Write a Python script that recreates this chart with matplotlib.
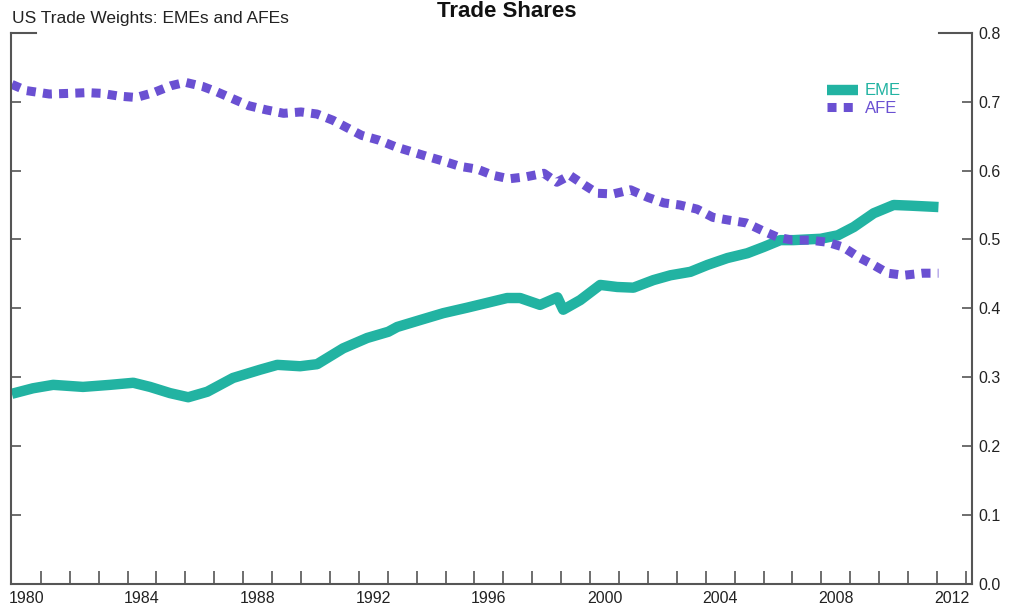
import numpy as np
import matplotlib
matplotlib.use("Agg")
import matplotlib.pyplot as plt

plt.rcParams["font.family"] = ["Liberation Sans", "DejaVu Sans"]

# EME trade share (year, value)
eme_years = [1980.0, 1980.73, 1981.43, 1982.46, 1983.40, 1984.20, 1984.78, 1985.47,
             1986.10, 1986.76, 1987.65, 1988.59, 1989.18, 1989.97, 1990.56, 1991.46,
             1992.29, 1993.02, 1993.33, 1994.12, 1994.92, 1995.75, 1996.54, 1997.13,
             1997.58, 1998.27, 1998.87, 1999.07, 1999.66, 2000.35, 2000.94, 2001.50,
             2002.19, 2002.78, 2003.47, 2004.06, 2004.75, 2005.44, 2006.00, 2006.58,
             2007.04, 2007.98, 2008.57, 2009.12, 2009.81, 2010.50, 2011.09, 2012.05]
eme_share = [0.276, 0.284, 0.289, 0.286, 0.289, 0.292, 0.286, 0.277,
             0.271, 0.279, 0.299, 0.311, 0.318, 0.316, 0.319, 0.342,
             0.357, 0.366, 0.373, 0.383, 0.393, 0.401, 0.409, 0.415,
             0.415, 0.405, 0.416, 0.398, 0.412, 0.434, 0.431, 0.430,
             0.441, 0.448, 0.453, 0.463, 0.473, 0.480, 0.489, 0.499,
             0.499, 0.501, 0.506, 0.518, 0.538, 0.550, 0.549, 0.547]

# AFE trade share
afe_years = [1980.0, 1980.5, 1981.3, 1982.0, 1982.6, 1983.1, 1983.7, 1984.3, 1984.9,
             1985.5, 1986.0, 1986.6, 1987.1, 1987.65, 1988.2, 1988.8, 1989.4, 1990.0,
             1990.55, 1991.1, 1991.6, 1992.1, 1992.7, 1993.3, 1993.85, 1994.4, 1994.9,
             1995.5, 1996.1, 1996.65, 1997.2, 1997.8, 1998.4, 1998.85, 1999.3, 1999.8,
             2000.25, 2000.8, 2001.4, 2002.0, 2002.55, 2003.1, 2003.7, 2004.25, 2004.8,
             2005.4, 2006.0, 2006.5, 2007.0, 2007.6, 2008.2, 2008.75, 2009.3, 2009.8,
             2010.3, 2010.85, 2011.5, 2012.05]
afe_share = [0.725, 0.716, 0.711, 0.712, 0.713, 0.712, 0.708, 0.706, 0.713,
             0.723, 0.728, 0.722, 0.714, 0.704, 0.694, 0.688, 0.683, 0.685,
             0.682, 0.673, 0.662, 0.651, 0.644, 0.634, 0.627, 0.620, 0.614,
             0.606, 0.602, 0.593, 0.588, 0.591, 0.596, 0.583, 0.593, 0.579,
             0.567, 0.566, 0.572, 0.561, 0.553, 0.550, 0.544, 0.532, 0.528,
             0.524, 0.512, 0.503, 0.499, 0.499, 0.496, 0.489, 0.474, 0.463,
             0.451, 0.448, 0.451, 0.451]

label_years = [1980, 1984, 1988, 1992, 1996, 2000, 2004, 2008, 2012]
y_ticks = [0.0, 0.1, 0.2, 0.3, 0.4, 0.5, 0.6, 0.7, 0.8]

eme_color = "#22B3A2"
afe_color = "#6A50D2"
axis_color = "#555555"

fig = plt.figure(figsize=(10.15, 6.14), dpi=100)
ax = fig.add_axes([10.7 / 1015, 30 / 614, 961 / 1015, 551.3 / 614])

ax.plot(eme_years, eme_share, color=eme_color, lw=7.5, solid_capstyle="butt",
        solid_joinstyle="round", label="EME")
ax.plot(afe_years, afe_share, color=afe_color, lw=6.5, dash_capstyle="butt",
        dash_joinstyle="round", linestyle=(0, (1.0, 0.8)), label="AFE")

ax.set_xlim(1979.96, 2013.2)
ax.set_ylim(0, 0.8)

# yearly ticks, labels centred mid-year every 4 years
ax.set_xticks(np.arange(1981, 2014))
ax.set_xticklabels([])
ax.set_xticks([y + 0.5 for y in label_years], minor=True)
ax.set_xticklabels([str(y) for y in label_years], minor=True)
ax.tick_params(axis="x", which="major", direction="in", length=9.5, width=1.2,
               color=axis_color)
ax.tick_params(axis="x", which="minor", length=0, pad=5, labelsize=11.5,
               labelcolor="#222222")

ax.set_yticks(y_ticks)
ax.set_yticklabels([f"{v:.1f}" for v in y_ticks])
ax.yaxis.tick_right()
ax.tick_params(axis="y", direction="in", length=7, width=1.2, color=axis_color,
               left=True, right=True, labelleft=False, labelright=True,
               labelsize=11.5, pad=5, labelcolor="#222222")

ax.spines["top"].set_visible(False)
for side in ["left", "right", "bottom"]:
    ax.spines[side].set_color(axis_color)
    ax.spines[side].set_linewidth(1.5)

# short top corners
for xs in ([0, 0.026], [0.966, 1.0]):
    ax.plot(xs, [1, 1], transform=ax.transAxes, color=axis_color, lw=1.5,
            clip_on=False)

leg = ax.legend(loc="upper left", bbox_to_anchor=(0.842, 0.92), frameon=False,
                fontsize=12, handlelength=1.9, handletextpad=0.4,
                labelspacing=0.15, borderaxespad=0)
for text, col in zip(leg.get_texts(), [eme_color, afe_color]):
    text.set_color(col)

fig.text(12 / 1015, 1 - 18 / 614, "US Trade Weights: EMEs and AFEs", fontsize=12.5,
         va="center", ha="left", color="#222222")
fig.text(507 / 1015, 1 - 17 / 614, "Trade Shares", fontsize=16, fontweight="bold",
         va="baseline", ha="center", color="#111111")

fig.savefig("out.png", dpi=100)
